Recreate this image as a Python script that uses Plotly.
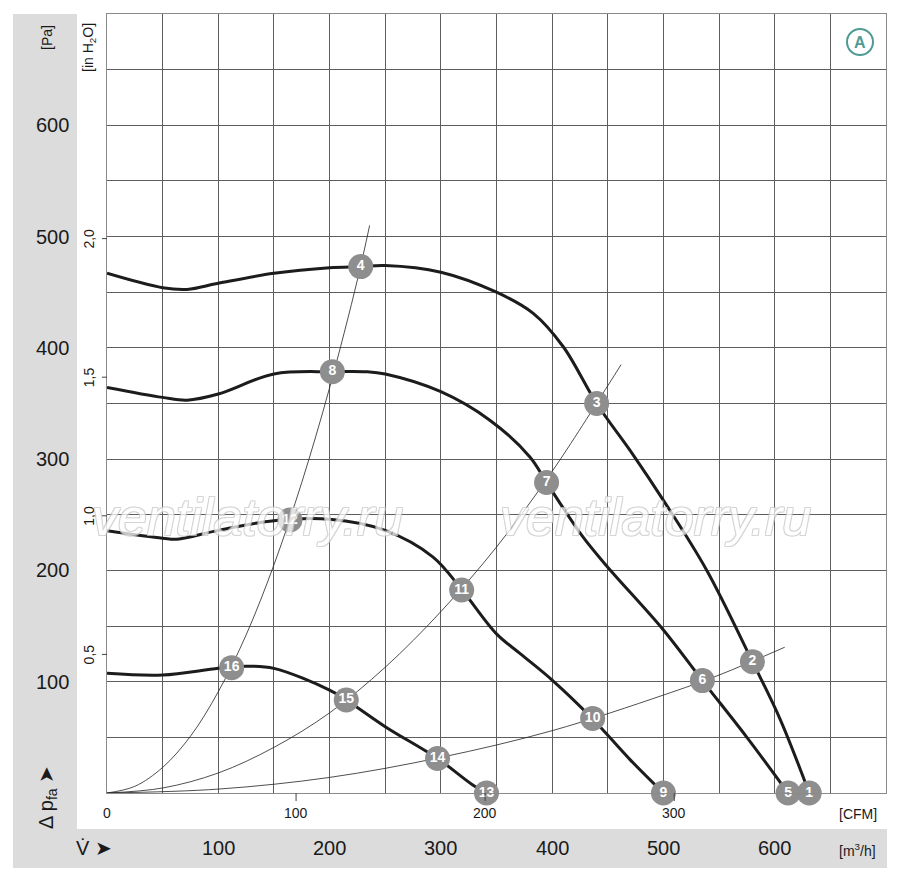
import plotly.graph_objects as go

# fan curves: volume flow [m3/h] vs static pressure [Pa]
curve1_q = [0, 50, 72, 100, 150, 200, 228, 250, 300, 350, 383, 410, 440, 472, 500, 539, 580, 605, 631]
curve1_p = [467, 454, 452.5, 458, 467, 472, 473, 474, 468, 450, 431, 401, 350, 305, 263, 200, 118, 66, 0]

curve2_q = [0, 50, 72, 100, 150, 202, 233, 250, 300, 344, 380, 395, 427, 449, 500, 535, 575, 612]
curve2_p = [364.5, 355.5, 353, 358.5, 376.5, 378.6, 378.6, 376.5, 360.6, 335, 302, 279, 231, 204, 146.5, 101, 50, 0]

curve3_q = [0, 50, 63, 100, 150, 200, 250, 293, 319, 350, 371, 400, 436, 470, 500]
curve3_p = [235.7, 229, 228, 236, 244.7, 246, 236, 212, 182.4, 143, 125.5, 101.5, 67, 30, 0]

curve4_q = [0, 50, 100, 125, 150, 200, 215, 250, 297, 329, 341]
curve4_p = [107.5, 106, 112, 114, 112, 92.5, 83.6, 59.6, 31, 7, 0]

# system resistance curves (thin)
sysA_q = [0, 25, 50, 75, 100, 125, 150, 175, 200, 225, 236]
sysA_p = [0, 6, 23, 51, 91, 142, 205, 279, 364, 461, 510]
sysB_q = [0, 50, 100, 150, 200, 250, 300, 350, 400, 450, 462]
sysB_p = [0, 4.5, 18, 41, 72, 113, 163, 221, 289, 366, 385]
sysC_q = [0, 100, 200, 300, 400, 500, 550, 609]
sysC_p = [0, 3.5, 14, 32, 56, 88, 106, 131]

# numbered operating points
point_labels = [str(i) for i in range(1, 17)]
point_q = [631, 580, 440, 228, 612, 535, 395, 202.5, 500, 436.4, 318.7, 164.4, 341, 297, 215, 112]
point_p = [0, 118, 350, 473, 0, 101, 279, 378.6, 0, 67, 182.4, 245.3, 0, 31, 83.6, 112.6]

pa_ticks = [100, 200, 300, 400, 500, 600]
m3h_ticks = [100, 200, 300, 400, 500, 600]
cfm_ticks = [0, 100, 200, 300]
inh2o_ticks = [0.5, 1.0, 1.5, 2.0]
inh2o_text = ["0,5", "1,0", "1,5", "2,0"]

PA_PER_INH2O = 249.09
M3H_PER_CFM = 1.699
XMAX, YMAX = 700, 700

FONT = "Liberation Sans, Arial, sans-serif"
GRID = "#5e5e5e"
INK = "#1a1a1a"


def px_x(p):
    # page pixel -> paper x (plot area 107..886)
    return (p - 107) / 779


def px_y(p):
    # page pixel -> paper y (plot area 14..793)
    return (793 - p) / 779


fig = go.Figure()

for q, p in [(sysA_q, sysA_p), (sysB_q, sysB_p), (sysC_q, sysC_p)]:
    fig.add_trace(go.Scatter(x=q, y=p, mode="lines", line_shape="spline",
                             line=dict(color="#222222", width=0.8),
                             hoverinfo="skip", cliponaxis=False))

for q, p in [(curve1_q, curve1_p), (curve2_q, curve2_p),
             (curve3_q, curve3_p), (curve4_q, curve4_p)]:
    fig.add_trace(go.Scatter(x=q, y=p, mode="lines",
                             line=dict(color="#1c1c1c", width=3, shape="spline", smoothing=1.0),
                             cliponaxis=False))

fig.add_trace(go.Scatter(x=point_q, y=point_p, mode="markers+text",
                         text=point_labels, textposition="middle center",
                         textfont=dict(family=FONT, size=14, color="white", weight="bold"),
                         marker=dict(size=25, color="#8e8e8e", line=dict(width=0)),
                         cliponaxis=False))

shapes = []
# grey bands (left and bottom)
shapes.append(dict(type="rect", xref="paper", yref="paper", x0=px_x(13), x1=px_x(77),
                   y0=px_y(868), y1=px_y(14), fillcolor="#dcdcdc", line_width=0, layer="below"))
shapes.append(dict(type="rect", xref="paper", yref="paper", x0=px_x(13), x1=px_x(887),
                   y0=px_y(868), y1=px_y(829), fillcolor="#dcdcdc", line_width=0, layer="below"))
# in H2O ticks on left edge
for v in inh2o_ticks:
    yp = v * PA_PER_INH2O / YMAX
    shapes.append(dict(type="line", xref="paper", yref="paper", x0=px_x(102), x1=0,
                       y0=yp, y1=yp, line=dict(color="#444", width=1)))
# CFM ticks below bottom edge
for v in cfm_ticks[1:]:
    xp = v * M3H_PER_CFM / XMAX
    shapes.append(dict(type="line", xref="paper", yref="paper", x0=xp, x1=xp,
                       y0=0, y1=px_y(801), line=dict(color="#444", width=1)))
# "A" badge
shapes.append(dict(type="circle", xref="paper", yref="paper",
                   x0=px_x(847), x1=px_x(873), y0=px_y(55), y1=px_y(29),
                   line=dict(color="#4f9b93", width=2)))


def label(x, y, text, size, xref="paper", yref="paper", angle=0, xanchor="center", color=INK, **kw):
    return dict(xref=xref, yref=yref, x=x, y=y, text=text, showarrow=False,
                textangle=angle, xanchor=xanchor, yanchor="middle",
                font=dict(family=FONT, size=size, color=color, **kw))


ann = []
for v in pa_ticks:
    ann.append(label(px_x(71), v, str(v), 20, yref="y", xanchor="right"))
for v in m3h_ticks:
    ann.append(label(v, px_y(848), str(v), 20, xref="x"))
for v in cfm_ticks:
    ann.append(label(v * M3H_PER_CFM, px_y(813), str(v), 14, xref="x"))
for v, t in zip(inh2o_ticks, inh2o_text):
    ann.append(label(px_x(89), v * PA_PER_INH2O, t, 14, yref="y", angle=-90))

ann += [
    label(px_x(47), px_y(37), "[Pa]", 14, angle=-90),
    label(px_x(89), px_y(48), "[in H<sub>2</sub>O]", 14, angle=-90),
    label(px_x(47), px_y(797), "Δ p<sub>fa</sub> ➤", 20, angle=-90),
    label(px_x(94), px_y(848), "V̇ ➤", 20),
    label(px_x(858), px_y(814), "[CFM]", 14),
    label(px_x(857), px_y(850), "[m<sup>3</sup>/h]", 14),
    label(px_x(860), px_y(42), "A", 16, color="#4f9b93", weight="bold"),
]
# watermark
for xc in [247, 655]:
    wm = label(px_x(xc), px_y(517), "ventilatorry.ru", 52, color="white", style="italic",
               shadow="1px 1px 0 #c8c8c8, -1px -1px 0 #c8c8c8, 1px -1px 0 #c8c8c8, -1px 1px 0 #c8c8c8")
    wm["opacity"] = 0.75
    ann.append(wm)

# page body adds 8px padding, so figure is 892x872 to fill the 900x880 window
fig.update_layout(
    width=892, height=872,
    margin=dict(l=99, r=14, t=6, b=87),
    paper_bgcolor="white", plot_bgcolor="white",
    showlegend=False,
    shapes=shapes, annotations=ann,
)
fig.update_xaxes(range=[0, XMAX], dtick=50, showticklabels=False, showgrid=True,
                 gridcolor=GRID, gridwidth=1, zeroline=False,
                 showline=True, linecolor="#8a8a8a", linewidth=1, mirror=True)
fig.update_yaxes(range=[0, YMAX], dtick=50, showticklabels=False, showgrid=True,
                 gridcolor=GRID, gridwidth=1, zeroline=False,
                 showline=True, linecolor="#8a8a8a", linewidth=1, mirror=True)

fig.write_html("out.html")
